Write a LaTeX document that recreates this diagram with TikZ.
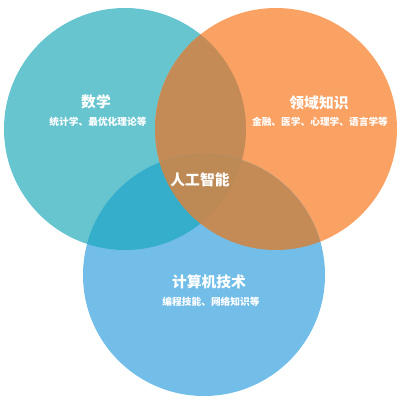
\documentclass[tikz,border=0pt]{standalone}
\usepackage{fontspec}
\setmainfont{Noto Sans CJK SC}
\usepackage{tikz}
\usetikzlibrary{positioning}
\definecolor{VennTeal}{HTML}{66C5CF}
\definecolor{VennOrange}{HTML}{FAA263}
\definecolor{VennBlue}{HTML}{72BEE9}
\definecolor{VennTealBlue}{HTML}{34AECB}
\definecolor{VennBrown}{HTML}{C58B57}
\definecolor{VennCore}{HTML}{BD8955}

\begin{document}
\begin{tikzpicture}[
    x=0.025cm, y=-0.025cm,
    title/.style={
      text=white,
      font=\fontsize{10.5pt}{12pt}\selectfont\bfseries,
      inner sep=0pt
    },
    sub/.style={
      text=white,
      font=\fontsize{6.9pt}{8pt}\selectfont\bfseries,
      inner sep=0pt
    }
  ]
  \useasboundingbox (0,0) rectangle (401,400);

  % set centres
  \coordinate (cmath) at (125,129);
  \coordinate (cdom)  at (276,129);
  \coordinate (ccomp) at (204,275);

  % circles
  \fill[VennTeal]   (cmath) circle[radius=121];
  \fill[VennOrange] (cdom)  circle[radius=121];
  \fill[VennBlue]   (ccomp) circle[radius=121];

  % overlaps
  \begin{scope}
    \clip (cmath) circle[radius=121];
    \fill[VennBrown] (cdom) circle[radius=121];
    \fill[VennTealBlue] (ccomp) circle[radius=121];
  \end{scope}
  \begin{scope}
    \clip (cdom) circle[radius=121];
    \fill[VennBrown] (ccomp) circle[radius=121];
  \end{scope}
  \begin{scope}
    \clip (cmath) circle[radius=121];
    \clip (cdom) circle[radius=121];
    \fill[VennCore] (ccomp) circle[radius=121];
  \end{scope}

  % labels
  \node[title] (math)    at (96,102)  {数学};
  \node[sub]   (mathsub) at (98,122)  {统计学、最优化理论等};
  \node[title] (dom)     at (319,103) {领域知识};
  \node[sub]   (domsub)  at (320,122) {金融、医学、心理学、语言学等};
  \node[title] (ai)      at (200,180) {人工智能};
  \node[title] (comp)    at (209,282) {计算机技术};
  \node[sub]   (compsub) at (211,302) {编程技能、网络知识等};

\end{tikzpicture}
\end{document}
